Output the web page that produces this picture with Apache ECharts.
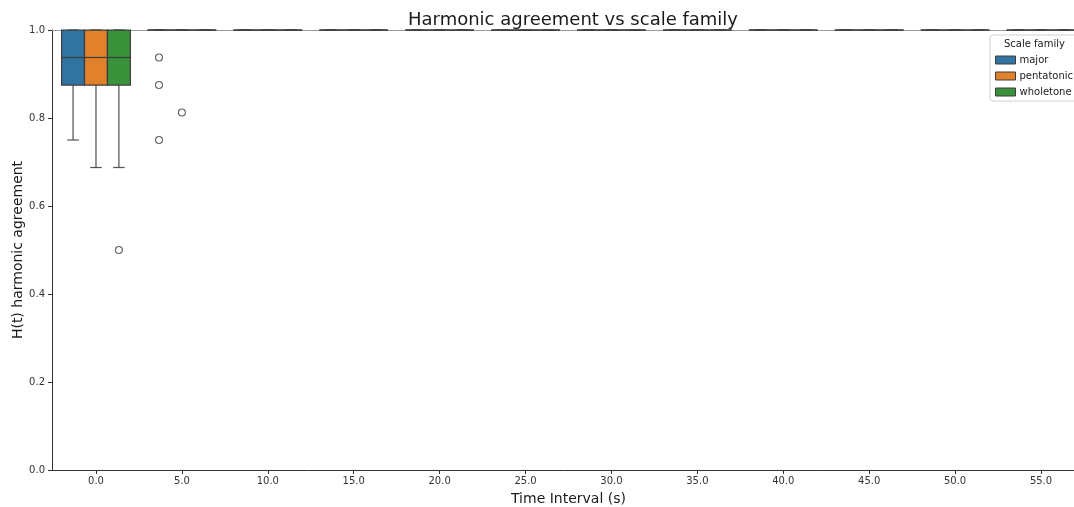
<!DOCTYPE html>
<html>
<head>
<meta charset="utf-8">
<title>Harmonic agreement vs scale family</title>
<script src="https://cdn.jsdelivr.net/npm/echarts@6/dist/echarts.min.js"></script>
<style>
  html, body { margin: 0; padding: 0; background: #fff; }
  #chart { width: 1074px; height: 507px; }
</style>
</head>
<body>
<div id="chart"></div>
<script>
// Time intervals (seconds) on the x axis
const times = [0, 5, 10, 15, 20, 25, 30, 35, 40, 45, 50, 55];
const families = ['major', 'pentatonic', 'wholetone'];
const familyColors = ['#3274a1', '#e1812c', '#3a923a'];

// Box statistics per time interval: [lower whisker, Q1, median, Q3, upper whisker]
const majorStats = [
  [0.75, 0.875, 0.9375, 1, 1],
  [1, 1, 1, 1, 1], [1, 1, 1, 1, 1], [1, 1, 1, 1, 1], [1, 1, 1, 1, 1],
  [1, 1, 1, 1, 1], [1, 1, 1, 1, 1], [1, 1, 1, 1, 1], [1, 1, 1, 1, 1],
  [1, 1, 1, 1, 1], [1, 1, 1, 1, 1], [1, 1, 1, 1, 1]
];
const pentatonicStats = [
  [0.6875, 0.875, 0.9375, 1, 1],
  [1, 1, 1, 1, 1], [1, 1, 1, 1, 1], [1, 1, 1, 1, 1], [1, 1, 1, 1, 1],
  [1, 1, 1, 1, 1], [1, 1, 1, 1, 1], [1, 1, 1, 1, 1], [1, 1, 1, 1, 1],
  [1, 1, 1, 1, 1], [1, 1, 1, 1, 1], [1, 1, 1, 1, 1]
];
const wholetoneStats = [
  [0.6875, 0.875, 0.9375, 1, 1],
  [1, 1, 1, 1, 1], [1, 1, 1, 1, 1], [1, 1, 1, 1, 1], [1, 1, 1, 1, 1],
  [1, 1, 1, 1, 1], [1, 1, 1, 1, 1], [1, 1, 1, 1, 1], [1, 1, 1, 1, 1],
  [1, 1, 1, 1, 1], [1, 1, 1, 1, 1], [1, 1, 1, 1, 1]
];

// Outliers: [time interval, H(t)]
const majorOutliers = [[5, 0.9375], [5, 0.875], [5, 0.75]];
const pentatonicOutliers = [[5, 0.8125]];
const wholetoneOutliers = [[0, 0.5]];

const xTicks = [0, 5, 10, 15, 20, 25, 30, 35, 40, 45, 50, 55];

const statsByFamily = [majorStats, pentatonicStats, wholetoneStats];
const outliersByFamily = [majorOutliers, pentatonicOutliers, wholetoneOutliers];

// Dodge layout: the group spans 4 s, each family box gets a third of it
const GROUP_WIDTH = 4;
const BOX_W = GROUP_WIDTH / families.length;
const offsetOf = fi => (fi - (families.length - 1) / 2) * BOX_W;

const EDGE = '#3d3d3d';
const WHISKER = '#555555';
const FONT = 'DejaVu Sans';

function makeBoxRenderer(fi) {
  return function (params, api) {
    const cx = api.value(0) + offsetOf(fi);
    const lo = api.value(1), q1 = api.value(2), med = api.value(3),
          q3 = api.value(4), hi = api.value(5);
    const p = (x, y) => api.coord([x, y]);
    const half = BOX_W / 2, cap = BOX_W / 4;
    const tl = p(cx - half, q3), br = p(cx + half, q1);
    const line = (a, b, color) => ({
      type: 'line',
      shape: { x1: a[0], y1: a[1], x2: b[0], y2: b[1] },
      style: { stroke: color, lineWidth: 1.25 }
    });
    return {
      type: 'group',
      children: [
        line(p(cx, q1), p(cx, lo), WHISKER),
        line(p(cx, q3), p(cx, hi), WHISKER),
        line(p(cx - cap, lo), p(cx + cap, lo), WHISKER),
        line(p(cx - cap, hi), p(cx + cap, hi), WHISKER),
        {
          type: 'rect',
          shape: { x: tl[0], y: tl[1], width: br[0] - tl[0], height: br[1] - tl[1] },
          style: { fill: familyColors[fi], stroke: EDGE, lineWidth: 1.25 }
        },
        line(p(cx - half, med), p(cx + half, med), EDGE)
      ]
    };
  };
}

const series = [];
families.forEach((name, fi) => {
  series.push({
    name: name,
    type: 'custom',
    renderItem: makeBoxRenderer(fi),
    itemStyle: { color: familyColors[fi], borderColor: EDGE, borderWidth: 1 },
    encode: { x: 0, y: [1, 2, 3, 4, 5] },
    data: times.map((t, i) => [t].concat(statsByFamily[fi][i])),
    clip: false,
    z: 3
  });
});
families.forEach((name, fi) => {
  series.push({
    name: name + ' outliers',
    type: 'scatter',
    symbol: 'circle',
    symbolSize: 7,
    itemStyle: { color: '#ffffff', borderColor: '#3d3d3d', borderWidth: 1.1 },
    data: outliersByFamily[fi].map(d => [d[0] + offsetOf(fi), d[1]]),
    z: 4,
    silent: true
  });
});

const chart = echarts.init(document.getElementById('chart'), null, { renderer: 'canvas' });
chart.setOption({
  animation: false,
  backgroundColor: '#ffffff',
  textStyle: { fontFamily: FONT },
  title: {
    text: 'Harmonic agreement vs scale family',
    left: 568,
    top: 6,
    textAlign: 'center',
    textStyle: { fontFamily: FONT, fontSize: 18, fontWeight: 'normal', color: '#1a1a1a' }
  },
  grid: {
    left: 52, right: -11, top: 30, bottom: 37,
    containLabel: false,
    outerBoundsMode: 'none'
  },
  legend: {
    data: families,
    orient: 'vertical',
    left: 990,
    top: 35,
    padding: [20, 10, 4, 5],
    itemGap: 6,
    itemWidth: 20,
    itemHeight: 8,
    icon: 'rect',
    backgroundColor: '#ffffff',
    borderColor: '#d0d0d0',
    borderWidth: 1,
    borderRadius: 3,
    itemStyle: { borderColor: EDGE, borderWidth: 1 },
    textStyle: { fontFamily: FONT, fontSize: 10, color: '#1a1a1a', padding: [0, 0, 0, -1] },
    selectedMode: false
  },
  graphic: [{
    type: 'text',
    left: 1004,
    top: 39,
    z: 100,
    style: { text: 'Scale family', fontFamily: FONT, fontSize: 10, fill: '#1a1a1a' }
  }],
  xAxis: [{
    type: 'value',
    min: -2.56,
    max: 57.56,
    name: 'Time Interval (s)',
    nameLocation: 'middle',
    nameGap: 22,
    nameMoveOverlap: false,
    nameTextStyle: { fontFamily: FONT, fontSize: 14, color: '#1a1a1a' },
    axisLine: { show: true, onZero: false, lineStyle: { color: '#333333', width: 1 } },
    axisTick: { show: true, length: 4, lineStyle: { color: '#333333' }, customValues: xTicks },
    axisLabel: {
      fontFamily: FONT, fontSize: 10, color: '#333333', margin: 6,
      customValues: xTicks,
      formatter: v => v.toFixed(1)
    },
    splitLine: { show: false }
  }, {
    type: 'value',
    position: 'top',
    min: -2.56,
    max: 57.56,
    axisLine: { show: true, onZero: false, lineStyle: { color: '#9a9a9a', width: 1 } },
    axisTick: { show: false },
    axisLabel: { show: false },
    splitLine: { show: false }
  }],
  yAxis: {
    type: 'value',
    min: 0,
    max: 1,
    interval: 0.2,
    name: 'H(t) harmonic agreement',
    nameLocation: 'middle',
    nameGap: 27,
    nameMoveOverlap: false,
    nameTextStyle: { fontFamily: FONT, fontSize: 14, color: '#1a1a1a' },
    axisLine: { show: true, onZero: false, lineStyle: { color: '#333333', width: 1 } },
    axisTick: { show: true, length: 4, lineStyle: { color: '#333333' } },
    axisLabel: {
      fontFamily: FONT, fontSize: 10, color: '#333333', margin: 7,
      formatter: v => v.toFixed(1)
    },
    splitLine: { show: false }
  },
  series: series
});
</script>
</body>
</html>
